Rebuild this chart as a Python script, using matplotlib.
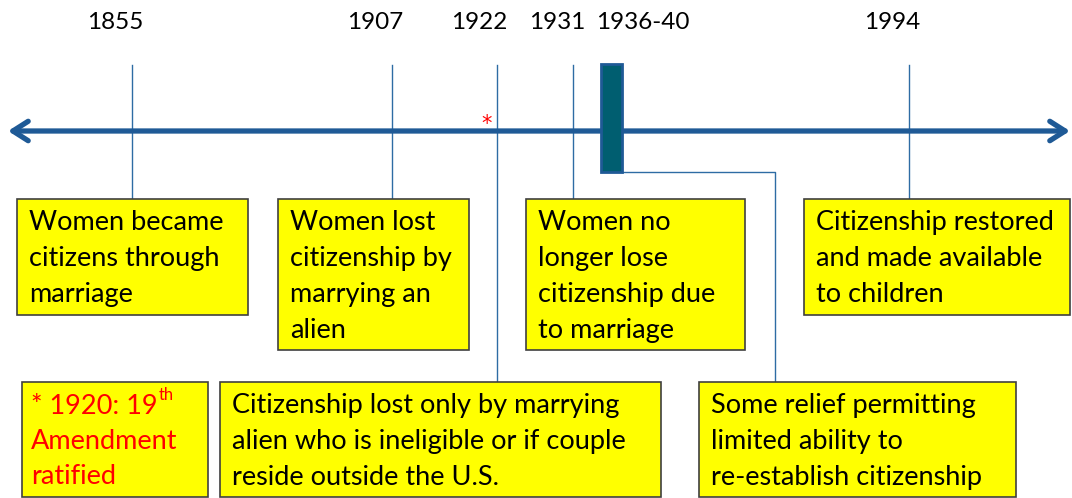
import matplotlib.pyplot as plt
from matplotlib.patches import Rectangle

# timeline data
year_labels = ['1855', '1907', '1922', '1931', '1936-40', '1994']
events = [
    'Women became\ncitizens through\nmarriage',
    'Women lost\ncitizenship by\nmarrying an\nalien',
    'Citizenship lost only by marrying\nalien who is ineligible or if couple\nreside outside the U.S.',
    'Women no\nlonger lose\ncitizenship due\nto marriage',
    'Some relief permitting\nlimited ability to\nre-establish citizenship',
    'Citizenship restored\nand made available\nto children',
]
note_text = ['* 1920: 19', 'Amendment', 'ratified']
note_sup = 'th'

# layout (pixel space, y down) -- the timeline is not to scale
marker_x = [132, 392, 497, 573, 611, 909]
label_x = [115, 375, 479, 557, 643, 892]
# box: left, top, right, bottom
boxes = [
    (17, 199, 248, 315),
    (278, 199, 469, 350),
    (220, 382, 661, 497),
    (526, 199, 745, 350),
    (699, 382, 1016, 497),
    (804, 199, 1070, 315),
]
note_box = (22, 382, 208, 497)
line_y = 131

blue = '#1F5A96'
thin_blue = '#2E6CA4'
yellow = '#FFFF00'
edge = '#3F3F3F'
font = ['Lato', 'DejaVu Sans']
fs = 17.5
fs_box = 19.5

fig = plt.figure(figsize=(10.72, 4.98), dpi=100)
ax = fig.add_axes([0, 0, 1, 1])
ax.set_xlim(0, 1072)
ax.set_ylim(498, 0)
ax.axis('off')

# main arrow
ax.annotate('', xy=(1070, line_y), xytext=(8, line_y),
            arrowprops=dict(arrowstyle='<->,head_length=0.55,head_width=0.35',
                            lw=3.8, color=blue, mutation_scale=20,
                            shrinkA=0, shrinkB=0, capstyle='round'))

for i, (lab, mx, lx) in enumerate(zip(year_labels, marker_x, label_x)):
    ax.text(lx, 22, lab, fontsize=fs, family=font, ha='center', va='center')
    box = boxes[i]
    if lab == '1936-40':
        ax.add_patch(Rectangle((mx - 10, 64), 21, 108, facecolor='#005E70',
                               edgecolor=blue, lw=2, zorder=3))
        ax.plot([mx + 11, 775, 775], [172, 172, box[1]], color=thin_blue,
                lw=1, zorder=1)
    else:
        ax.plot([mx, mx], [65, box[1]], color=thin_blue, lw=1, zorder=1)

for box, txt in zip(boxes, events):
    l, t, r, b = box
    ax.add_patch(Rectangle((l, t), r - l, b - t, facecolor=yellow,
                           edgecolor=edge, lw=1.2, zorder=2))
    ax.text(l + 12, t + 11, txt, fontsize=fs_box, family=font, ha='left',
            va='top', linespacing=1.55, zorder=4)

# 19th amendment note
l, t, r, b = note_box
ax.add_patch(Rectangle((l, t), r - l, b - t, facecolor=yellow,
                       edgecolor=edge, lw=1.2, zorder=2))
first = None
for k, s in enumerate(note_text):
    tx = ax.text(l + 9, t + 24 + k * 35, s, fontsize=fs_box, family=font,
                 color='red', ha='left', va='center', zorder=4)
    if first is None:
        first = tx
ax.annotate(note_sup, xy=(1, 0.95), xycoords=first, xytext=(1, 0),
            textcoords='offset points', fontsize=12, family=font, color='red',
            ha='left', va='center', zorder=4)

ax.text(487, 124, '*', fontsize=15, color='red', ha='center', va='center',
        family='DejaVu Sans')

fig.savefig('out.png', dpi=100)
